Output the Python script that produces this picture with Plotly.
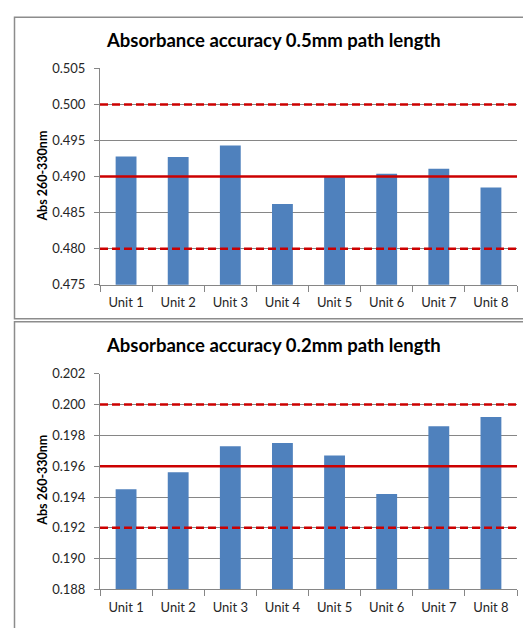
import plotly.graph_objects as go

# Categories and measured absorbance (Abs 260-330nm) per unit
units = ["Unit 1", "Unit 2", "Unit 3", "Unit 4", "Unit 5", "Unit 6", "Unit 7", "Unit 8"]
abs_05mm = [0.4928, 0.4927, 0.4943, 0.4862, 0.4900, 0.4904, 0.4911, 0.4885]
abs_02mm = [0.1945, 0.1956, 0.1973, 0.1975, 0.1967, 0.1942, 0.1986, 0.1992]

# Acceptance limits: lower, target, upper
limits_05mm = [0.480, 0.490, 0.500]
limits_02mm = [0.192, 0.196, 0.200]

# Axis ranges and tick values
yrange_05mm = [0.475, 0.505]
yrange_02mm = [0.188, 0.202]
ytick_05mm = [0.475, 0.480, 0.485, 0.490, 0.495, 0.500, 0.505]
ytick_02mm = [0.188, 0.190, 0.192, 0.194, 0.196, 0.198, 0.200, 0.202]

titles = ["Absorbance accuracy 0.5mm path length", "Absorbance accuracy 0.2mm path length"]
ytitle = "Abs 260-330nm"

W, H = 523, 628
BAR = "#4F81BD"
RED = "#CC0000"
GRID = "#868686"
FRAME = "#8C8C8C"
TXT = "#262626"
FONT = "Lato"


def px(x):
    return x / W


def py(y):
    return 1 - y / H


fig = go.Figure()
fig.add_trace(go.Bar(x=units, y=abs_05mm, marker=dict(color=BAR, line=dict(width=0)),
                     xaxis="x", yaxis="y", showlegend=False))
fig.add_trace(go.Bar(x=units, y=abs_02mm, marker=dict(color=BAR, line=dict(width=0)),
                     xaxis="x2", yaxis="y2", showlegend=False))

xdom = [px(100), px(517)]
common_x = dict(
    type="category", showgrid=False, showline=True, linecolor=GRID, linewidth=1,
    ticks="outside", tickson="boundaries", ticklen=6, tickcolor=GRID,
    ticklabelstandoff=6,
    tickfont=dict(family=FONT, size=13, color=TXT), fixedrange=True,
)
common_y = dict(
    showgrid=True, gridcolor=GRID, gridwidth=1, showline=True, linecolor=GRID,
    linewidth=1, ticks="outside", ticklen=5, tickcolor=GRID, zeroline=False,
    ticklabelstandoff=6,
    tickfont=dict(family=FONT, size=13, color=TXT), tickformat=".3f",
)

fig.update_layout(
    width=W, height=H, margin=dict(l=0, r=0, t=0, b=0),
    paper_bgcolor="white", plot_bgcolor="white", bargap=0.6,
    xaxis=dict(domain=xdom, anchor="y", **common_x),
    yaxis=dict(domain=[py(284), py(62)], anchor="x", range=yrange_05mm,
               tickvals=ytick_05mm, **common_y),
    xaxis2=dict(domain=xdom, anchor="y2", **common_x),
    yaxis2=dict(domain=[py(596.7), py(375.3)], anchor="x2", range=yrange_02mm,
                tickvals=ytick_02mm, **common_y),
)

# Limit lines: dashed lower/upper, solid target
for limits, xr, yr in [(limits_05mm, "x domain", "y"), (limits_02mm, "x2 domain", "y2")]:
    for i, v in enumerate(limits):
        fig.add_shape(type="line", xref=xr, yref=yr, x0=0, x1=1, y0=v, y1=v,
                      line=dict(color=RED, width=2.5,
                                dash="solid" if i == 1 else "8px,4px"),
                      layer="above")

# Chart frames
fig.add_shape(type="rect", xref="paper", yref="paper",
              x0=px(14.5), x1=px(540), y0=py(319), y1=py(9.5),
              line=dict(color=FRAME, width=1.5), fillcolor="rgba(0,0,0,0)", layer="below")
fig.add_shape(type="rect", xref="paper", yref="paper",
              x0=px(14.5), x1=px(540), y0=py(650), y1=py(322),
              line=dict(color=FRAME, width=1.5), fillcolor="rgba(0,0,0,0)", layer="below")

# Titles
for t, yc in zip(titles, [33, 346]):
    fig.add_annotation(text=f"<b>{t}</b>", xref="paper", yref="paper", x=px(273), y=py(yc),
                       xanchor="center", yanchor="middle", showarrow=False,
                       font=dict(family=FONT, size=18.5, color="black"))
# Y axis titles
for yc in [173, 485]:
    fig.add_annotation(text=f"<b>{ytitle}</b>", xref="paper", yref="paper", x=px(43), y=py(yc),
                       xanchor="center", yanchor="middle", textangle=-90, showarrow=False,
                       font=dict(family=FONT, size=12.5, color="black"))

fig.write_html("out.html")
